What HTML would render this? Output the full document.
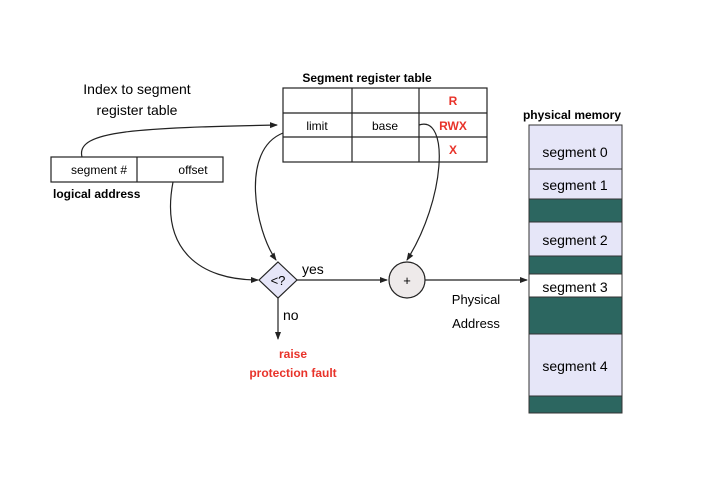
<!DOCTYPE html>
<html><head><style>body{margin:0;background:#fff}svg{display:block}</style></head><body>
<svg width="716" height="490" xmlns="http://www.w3.org/2000/svg" font-family="Liberation Sans, sans-serif">
<defs><marker id="a" markerWidth="8" markerHeight="8" refX="7" refY="4" orient="auto" markerUnits="userSpaceOnUse"><path d="M0,1 L8,4 L0,7 z" fill="#222"/></marker></defs>
<rect width="716" height="490" fill="#fff"/>
<text x="137" y="94" font-size="14" text-anchor="middle">Index to segment</text>
<text x="137" y="115" font-size="14" text-anchor="middle">register table</text>
<text x="367" y="82" font-size="12" font-weight="bold" text-anchor="middle">Segment register table</text>
<g stroke="#222" stroke-width="1.2" fill="none">
<rect x="283" y="88" width="204" height="74"/>
<line x1="352" y1="88" x2="352" y2="162"/><line x1="419" y1="88" x2="419" y2="162"/>
<line x1="283" y1="113" x2="487" y2="113"/><line x1="283" y1="137" x2="487" y2="137"/>
<rect x="51" y="157" width="172" height="25"/><line x1="137" y1="157" x2="137" y2="182"/>
</g>
<g font-size="12" text-anchor="middle">
<text x="317" y="130">limit</text><text x="385" y="130">base</text>
<text x="99" y="174">segment #</text><text x="193" y="174">offset</text>
</g>
<g font-size="12" font-weight="bold" fill="#e8332a" text-anchor="middle">
<text x="453" y="105">R</text><text x="453" y="130">RWX</text><text x="453" y="154">X</text>
<text x="293" y="358">raise</text><text x="293" y="377">protection fault</text>
</g>
<text x="53" y="198" font-size="12" font-weight="bold">logical address</text>
<g stroke="#222" stroke-width="1.2" fill="none">
<path d="M82,157 C75,130 140,128 277,125" marker-end="url(#a)"/>
<path d="M173,182 C160,250 200,280 258,280" marker-end="url(#a)"/>
<path d="M283,133 C240,150 255,230 276,260" marker-end="url(#a)"/>
<path d="M419,125 C450,115 445,200 407,260" marker-end="url(#a)"/>
<line x1="297" y1="280" x2="387" y2="280" marker-end="url(#a)"/>
<line x1="425" y1="280" x2="527" y2="280" marker-end="url(#a)"/>
<line x1="278" y1="298" x2="278" y2="339" marker-end="url(#a)"/>
</g>
<path d="M278,262 L297,280 L278,298 L259,280 z" fill="#e6e6f8" stroke="#222" stroke-width="1.2"/>
<text x="278" y="285" font-size="13" text-anchor="middle">&lt;?</text>
<circle cx="407" cy="280" r="18" fill="#eeeaea" stroke="#222" stroke-width="1.2"/>
<text x="407" y="285" font-size="13" text-anchor="middle">+</text>
<text x="302" y="274" font-size="14">yes</text>
<text x="283" y="320" font-size="14">no</text>
<text x="476" y="304" font-size="13" text-anchor="middle">Physical</text>
<text x="476" y="328" font-size="13" text-anchor="middle">Address</text>
<text x="572" y="119" font-size="12" font-weight="bold" text-anchor="middle">physical memory</text>
<g stroke="#333" stroke-width="1">
<rect x="529" y="125" width="93" height="44" fill="#e6e6f8"/>
<rect x="529" y="169" width="93" height="30" fill="#e6e6f8"/>
<rect x="529" y="199" width="93" height="23" fill="#2c6660"/>
<rect x="529" y="222" width="93" height="34" fill="#e6e6f8"/>
<rect x="529" y="256" width="93" height="18" fill="#2c6660"/>
<rect x="529" y="274" width="93" height="23" fill="#fff"/>
<rect x="529" y="297" width="93" height="37" fill="#2c6660"/>
<rect x="529" y="334" width="93" height="62" fill="#e6e6f8"/>
<rect x="529" y="396" width="93" height="17" fill="#2c6660"/>
</g>
<g font-size="14" text-anchor="middle">
<text x="575" y="157">segment 0</text><text x="575" y="190">segment 1</text>
<text x="575" y="245">segment 2</text><text x="575" y="292">segment 3</text>
<text x="575" y="371">segment 4</text>
</g>
</svg>
</body></html>
